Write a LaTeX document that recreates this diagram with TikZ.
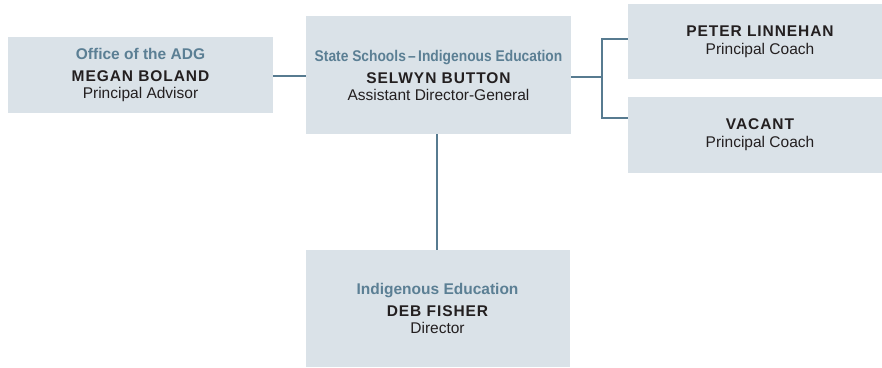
\documentclass[tikz,border=0pt]{standalone}
\usepackage{fontspec}
\usepackage{graphicx}
\setmainfont{Liberation Sans}
\newfontfamily\namefont[LetterSpace=6]{Liberation Sans Bold}
\definecolor{boxfill}{HTML}{DAE2E8}
\definecolor{linecol}{HTML}{577B90}
\definecolor{titlecol}{HTML}{5B7F94}
\definecolor{namecol}{HTML}{231F20}
\newcommand{\ttl}[1]{{\color{titlecol}\bfseries #1}}
\newcommand{\nm}[1]{{\color{namecol}\namefont #1}}
\begin{document}
\begin{tikzpicture}[x=1pt,y=-1pt,
  orgbox/.style={fill=boxfill, draw=none, inner sep=0pt, align=center,
    font=\fontsize{15.5}{17}\selectfont, text=namecol},
  conn/.style={draw=linecol, line width=2.5pt}]
\useasboundingbox (0,0) rectangle (882,367);
% boxes
\node[orgbox, minimum width=265pt, minimum height=76pt] (adg) at (140.5,75)
  {\ttl{Office of the ADG}\\[5pt]\nm{MEGAN BOLAND}\\Principal Advisor};
\node[orgbox, minimum width=265pt, minimum height=118pt] (asd) at (438.5,75)
  {\ttl{\scalebox{0.89}[1]{State Schools\,--\,Indigenous Education}}\\[5pt]\nm{SELWYN BUTTON}\\Assistant Director-General};
\node[orgbox, minimum width=264pt, minimum height=75pt] (pl) at (760,41.5)
  {\nm{PETER LINNEHAN}\\[1pt]Principal Coach};
\node[orgbox, minimum width=264pt, minimum height=76pt] (vc) at (760,135)
  {\nm{VACANT}\\[1pt]Principal Coach};
\node[orgbox, minimum width=264pt, minimum height=117pt] (ie) at (437.5,308.5)
  {\ttl{Indigenous Education}\\[5pt]\nm{DEB FISHER}\\Director};
% connectors
\coordinate (brk) at (602,77);
\draw[conn] (adg.east |- 0,76) -- (asd.west |- 0,76);
\draw[conn] (asd.east |- brk) -- (brk);
\draw[conn] (pl.west |- 0,39) -| (brk) |- (vc.west |- 0,118);
\draw[conn] (asd.south -| 437,0) -- (ie.north -| 437,0);
\end{tikzpicture}
\end{document}
